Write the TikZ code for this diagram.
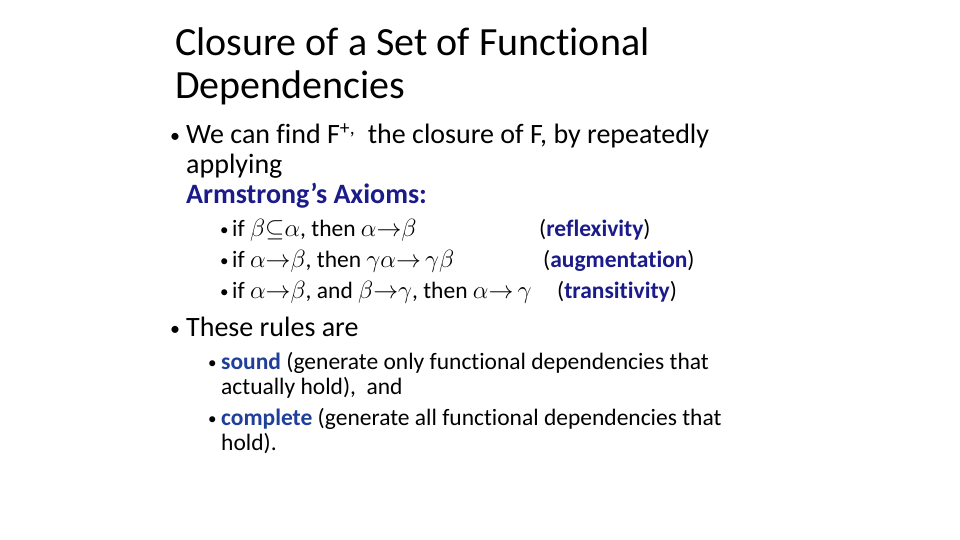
\documentclass[tikz,border=0pt]{standalone}
\usepackage{fontspec}
\setmainfont{Carlito}[Ligatures=NoCommon]
\definecolor{navy}{HTML}{1B1B8A}
\definecolor{sblue}{HTML}{1F3F9A}
\begin{document}
\begin{tikzpicture}[x=1pt,y=-1pt,
  t/.style={anchor=base west,inner sep=0pt,font=\fontsize{28}{32}\selectfont},
  s/.style={anchor=base west,inner sep=0pt,font=\fontsize{23.5}{28}\selectfont},
  bt/.style={anchor=base west,inner sep=0pt,font=\fontsize{20}{24}\selectfont},
  bs/.style={anchor=base west,inner sep=0pt,font=\fontsize{17}{20}\selectfont}]
\useasboundingbox[fill=white] (0,0) rectangle (960,540);
\node[t,font=\fontsize{40}{44}\selectfont] (t1) at (175,56) {Closure of a Set of Functional};
\node[t,font=\fontsize{40}{44}\selectfont] (t2) at (175,99) {Dependencies};
\node[bt] (b1) at (170,143) {•};
\node[t] (l1) at (186,144) {We can find F\textsuperscript{+,}\ \ the closure of F, by repeatedly};
\node[t] (l2) at (186,174) {applying};
\node[t] (l3) at (186,203) {\textcolor{navy}{\textbf{Armstrong’s Axioms:}}};
\node[bs] (a1b) at (220,235) {•};
\node[s] (a1) at (232,236) {if $\beta{\subseteq}\alpha$, then $\alpha{\rightarrow}\beta$};
\node[s] (a1r) at (539,236) {(\textcolor{navy}{\textbf{reflexivity}})};
\node[bs] (a2b) at (220,266) {•};
\node[s] (a2) at (232,267) {if $\alpha{\rightarrow}\beta$, then $\gamma\alpha{\rightarrow}\,\gamma\beta$};
\node[s] (a2r) at (543,267) {(\textcolor{navy}{\textbf{augmentation}})};
\node[bs] (a3b) at (220,297) {•};
\node[s] (a3) at (232,298) {if $\alpha{\rightarrow}\beta$, and $\beta{\rightarrow}\gamma$, then $\alpha{\rightarrow}\,\gamma$};
\node[s] (a3r) at (557,298) {(\textcolor{navy}{\textbf{transitivity}})};
\node[bt] (b2) at (170,335) {•};
\node[t] (r1) at (186,336) {These rules are};
\node[bs] (c1b) at (208,368) {•};
\node[s] (c1) at (221,369) {\textcolor{sblue}{\textbf{sound}} (generate only functional dependencies that};
\node[s] (c1x) at (221,394) {actually hold),\ \ and};
\node[bs] (c2b) at (208,424) {•};
\node[s] (c2) at (221,425) {\textcolor{sblue}{\textbf{complete}} (generate all functional dependencies that};
\node[s] (c2x) at (221,450) {hold).};
\end{tikzpicture}
\end{document}
